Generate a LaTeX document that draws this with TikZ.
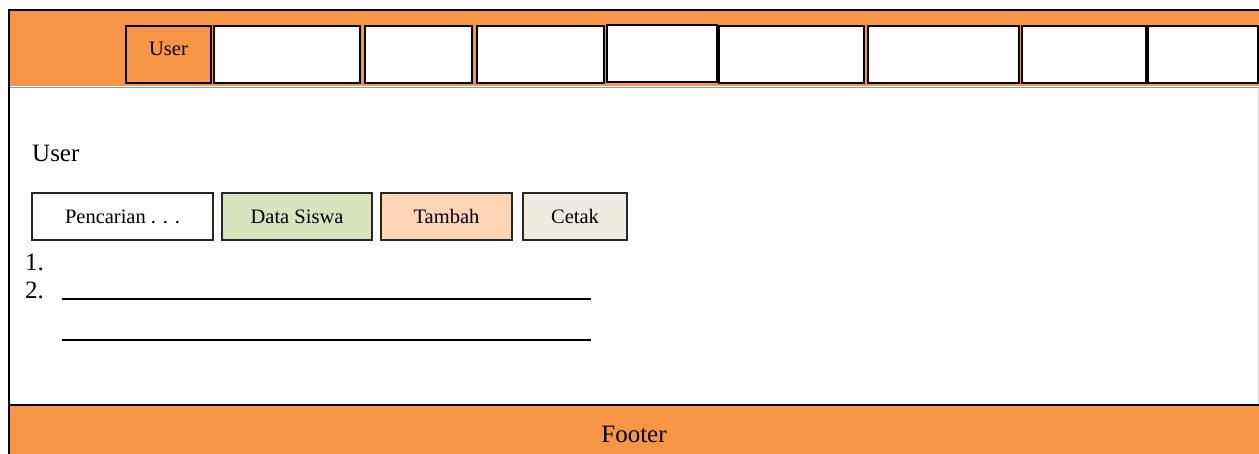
\documentclass[tikz,border=0pt]{standalone}
\usepackage{fontspec}
\setmainfont{Liberation Serif}
\definecolor{barorange}{HTML}{F79646}
\definecolor{btngreen}{HTML}{D7E4BD}
\definecolor{btnpeach}{HTML}{FBD5B5}
\definecolor{btncream}{HTML}{EEECE1}
\begin{document}
\begin{tikzpicture}[x=1pt,y=-1pt,
  menubox/.style={draw=black,line width=2pt,fill=white,inner sep=0pt,outer sep=0pt,
    anchor=north west,font=\fontsize{20}{24}\selectfont},
  btnbox/.style={draw=black!85,line width=1.4pt,inner sep=0pt,outer sep=0pt,
    anchor=north west,minimum height=47pt},
  btntext/.style={inner sep=0pt,anchor=base,font=\fontsize{20.5}{24}\selectfont},
  bigtext/.style={inner sep=0pt,anchor=base west,font=\fontsize{25}{30}\selectfont},
  rule/.style={line width=1.8pt,draw=black}]
\useasboundingbox (0,0) rectangle (1259,454);
% header bar
\fill[barorange] (9,10) rectangle (1259,86);
\draw[black!40,line width=0.8pt] (9,87) -- (1259,87);
\draw[line width=2.2pt] (1259,10) -- (9,10) -- (9,86);
% body frame
\draw[line width=1.6pt] (9,86) -- (9,405);
\draw[black!15,line width=1pt] (1258.5,88) -- (1258.5,404);
% footer bar
\fill[barorange] (9,405) rectangle (1259,454);
\draw[line width=2.2pt] (9,454) -- (9,405) -- (1259,405);
\node[inner sep=0pt,anchor=base,font=\fontsize{25}{30}\selectfont] (footer) at (634,442) {Footer};
% menu tabs
\node[menubox,fill=barorange,minimum width=85pt,minimum height=57pt] (m1) at (126,26) {};
\node[btntext] (m1t) at (168.5,56) {User};
\node[menubox,minimum width=146pt,minimum height=57pt] (m2) at (214,26) {};
\node[menubox,minimum width=107pt,minimum height=57pt] (m3) at (365,26) {};
\node[menubox,minimum width=127pt,minimum height=57pt] (m4) at (477,26) {};
\node[menubox,minimum width=110pt,minimum height=57pt] (m5) at (607,25) {};
\node[menubox,minimum width=145pt,minimum height=57pt] (m6) at (719,26) {};
\node[menubox,minimum width=151pt,minimum height=57pt] (m7) at (868,26) {};
\node[menubox,minimum width=124pt,minimum height=57pt] (m8) at (1022,26) {};
\node[menubox,minimum width=110pt,minimum height=57pt] (m9) at (1148,26) {};
% page title
\node[bigtext] (title) at (32,162) {User};
% buttons
\node[btnbox,fill=white,minimum width=181pt] (b1) at (32,193) {};
\node[btntext] (b1t) at (122.5,224) {Pencarian . . .};
\node[btnbox,fill=btngreen,minimum width=150pt] (b2) at (222,193) {};
\node[btntext] (b2t) at (297,224) {Data Siswa};
\node[btnbox,fill=btnpeach,minimum width=131pt] (b3) at (381,193) {};
\node[btntext] (b3t) at (446.5,224) {Tambah};
\node[btnbox,fill=btncream,minimum width=104pt] (b4) at (523,193) {};
\node[btntext] (b4t) at (575,224) {Cetak};
% numbered list with blank rules
\node[bigtext] (n1) at (25,271) {1.};
\node[bigtext] (n2) at (25,299) {2.};
\coordinate (r1a) at (62,299);
\coordinate (r1b) at (591,299);
\coordinate (r2a) at (62,340);
\coordinate (r2b) at (591,340);
\draw[rule] (r1a) -- (r1b);
\draw[rule] (r2a) -- (r2b);
\end{tikzpicture}
\end{document}
